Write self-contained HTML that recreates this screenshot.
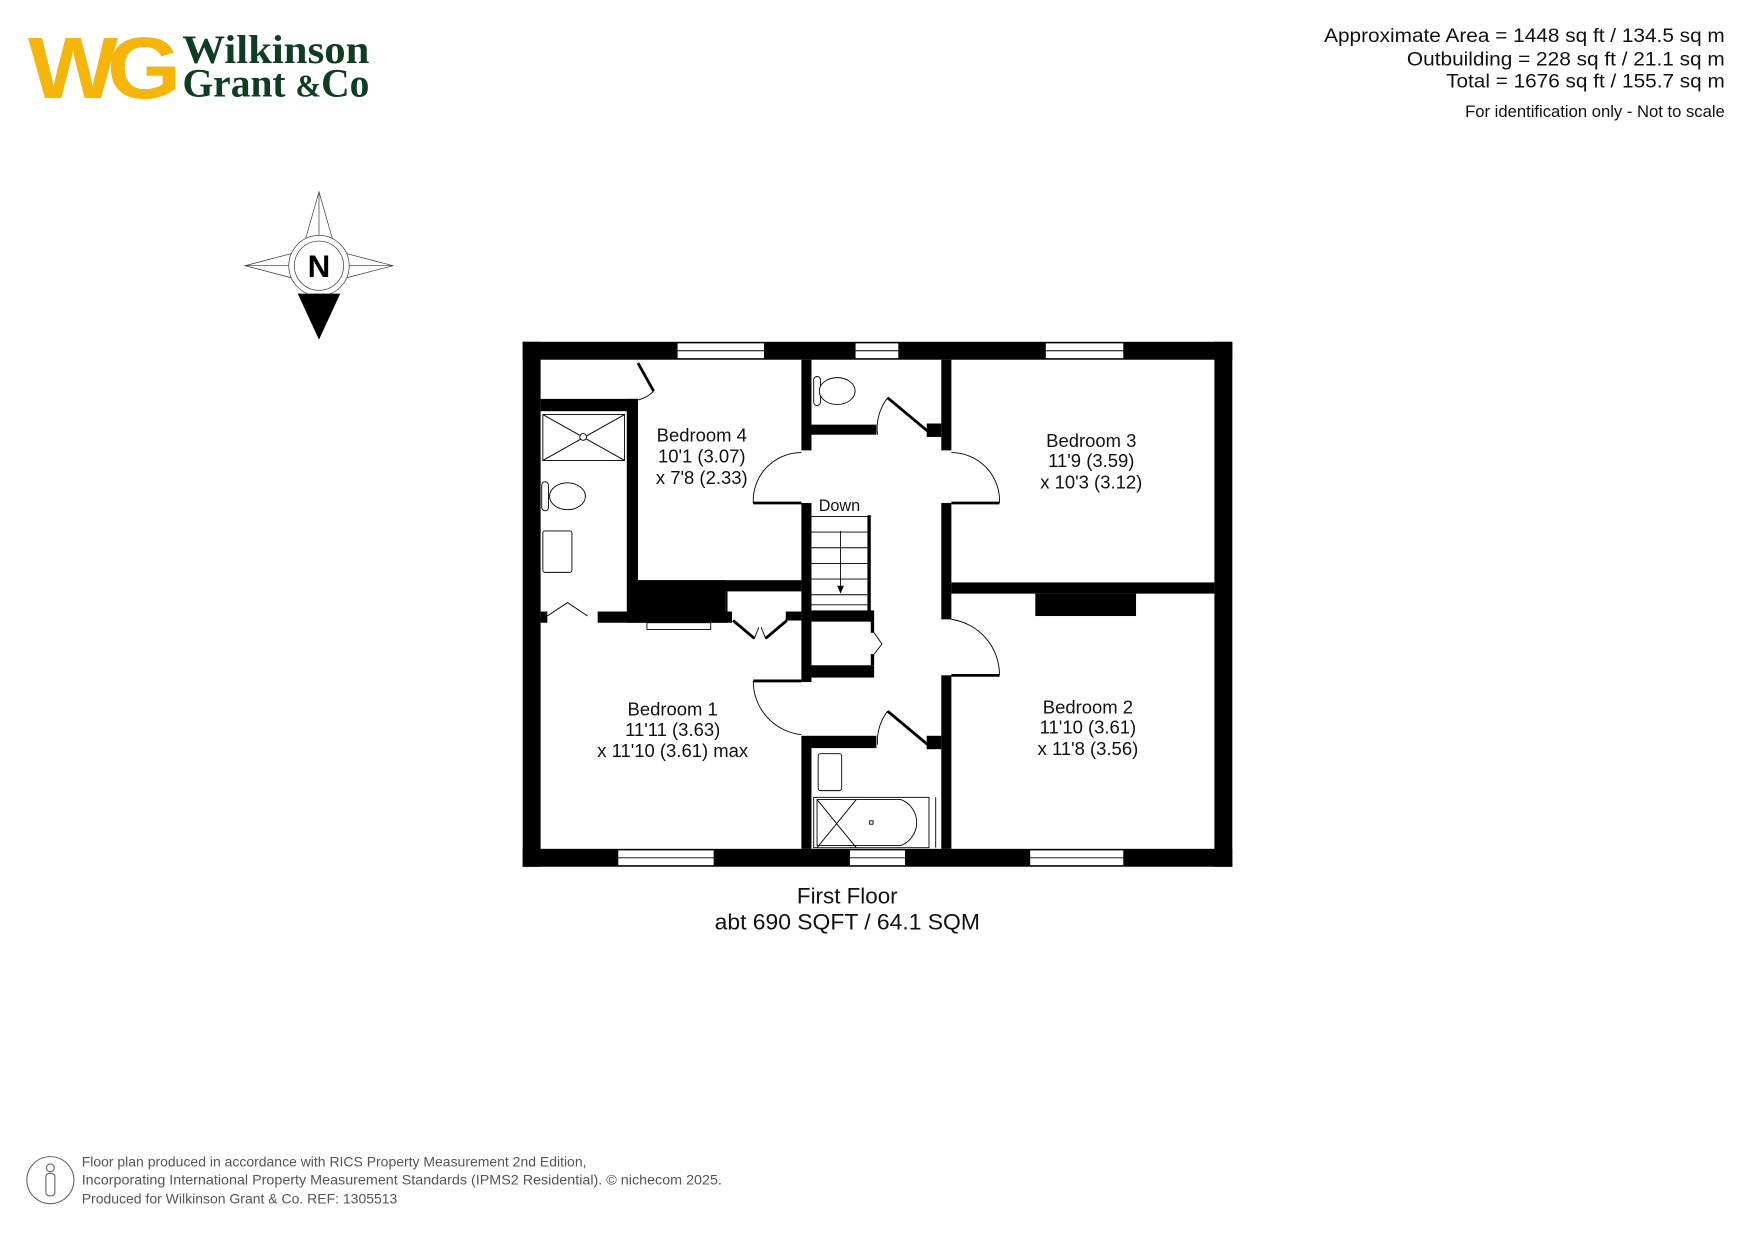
<!DOCTYPE html>
<html><head><meta charset="utf-8"><style>
html,body{margin:0;padding:0;background:#fff;}
svg{display:block;}
</style></head><body>
<svg width="1755" height="1241" viewBox="0 0 1568 1108" xmlns="http://www.w3.org/2000/svg" font-family="Liberation Sans, Arial, sans-serif">
<rect width="1568" height="1108" fill="#fff"/>
<text x="25" y="87" font-family="Liberation Sans, sans-serif" font-weight="bold" font-size="78" fill="#f5b50a" letter-spacing="-9" textLength="127" lengthAdjust="spacingAndGlyphs">WG</text>
<text x="163" y="56" font-family="Liberation Serif, serif" font-weight="bold" font-size="36" fill="#0f3d22" textLength="167" lengthAdjust="spacingAndGlyphs">Wilkinson</text>
<text x="163" y="86" font-family="Liberation Serif, serif" font-weight="bold" font-size="36" fill="#0f3d22" textLength="167" lengthAdjust="spacingAndGlyphs">Grant <tspan font-size="28">&amp;</tspan>Co</text>
<g font-size="17.5" text-anchor="end" fill="#111">
<text x="1541" y="37" textLength="358" lengthAdjust="spacingAndGlyphs">Approximate Area = 1448 sq ft / 134.5 sq m</text>
<text x="1541" y="58" textLength="284" lengthAdjust="spacingAndGlyphs">Outbuilding = 228 sq ft / 21.1 sq m</text>
<text x="1541" y="78" textLength="249" lengthAdjust="spacingAndGlyphs">Total = 1676 sq ft / 155.7 sq m</text>
<text x="1541" y="104" font-size="14.5" textLength="232" lengthAdjust="spacingAndGlyphs">For identification only - Not to scale</text>
</g>
<g stroke="#333" stroke-width="0.6" fill="none">
<polygon points="285,171 297,213 285,237 273,213"/>
<polygon points="219,237 261,226 285,237 261,248"/>
<polygon points="351,237 309,226 285,237 309,248"/>
<line x1="285" y1="171" x2="285" y2="237"/><line x1="219" y1="237" x2="351" y2="237"/>
<circle cx="285" cy="237" r="27" fill="#fff"/>
<circle cx="285" cy="237" r="22" fill="#fff"/>
</g>
<polygon points="266,262 304,262 285,303" fill="#000"/>
<text x="285" y="247" font-size="28" font-weight="bold" text-anchor="middle">N</text>
<g fill="#000">
<rect x="467" y="305" width="634" height="16"/>
<rect x="467" y="758" width="634" height="16"/>
<rect x="467" y="305" width="16" height="469"/>
<rect x="1085" y="305" width="16" height="469"/>
<rect x="716" y="321" width="9" height="81"/>
<rect x="716" y="449" width="9" height="160"/>
<rect x="716" y="657" width="9" height="101"/>
<rect x="841" y="321" width="9" height="81"/>
<rect x="841" y="449" width="9" height="104"/>
<rect x="841" y="603" width="9" height="155"/>
<rect x="850" y="520" width="235" height="10"/>
<rect x="925" y="530" width="90" height="20"/>
<rect x="725" y="379" width="58" height="9"/>
<rect x="828" y="378" width="13" height="12"/>
<rect x="725" y="657" width="58" height="11"/>
<rect x="828" y="657" width="13" height="12"/>
<rect x="725" y="545" width="56" height="10"/>
<rect x="725" y="594" width="56" height="11"/>
<rect x="775" y="460" width="3" height="95"/>
<rect x="778" y="555" width="3" height="10"/>
<rect x="778" y="584" width="3" height="10"/>
<rect x="483" y="356" width="87" height="11"/>
<rect x="560" y="356" width="10" height="200"/>
<rect x="570" y="518" width="146" height="10"/>
<rect x="570" y="518" width="78" height="38"/>
<rect x="483" y="546" width="6" height="10"/>
<rect x="534" y="546" width="36" height="10"/>
<rect x="570" y="546" width="84" height="10"/>
<rect x="648" y="528" width="2" height="28"/>
<rect x="702" y="546" width="14" height="8"/>
</g>
<g fill="#fff" stroke="#000" stroke-width="0.8">
<rect x="605" y="306" width="78" height="14"/><line x1="605" y1="313" x2="683" y2="313"/>
<rect x="764" y="306" width="39" height="14"/><line x1="764" y1="313" x2="803" y2="313"/>
<rect x="934" y="306" width="70" height="14"/><line x1="934" y1="313" x2="1004" y2="313"/>
<rect x="552" y="759" width="86" height="14"/><line x1="552" y1="766" x2="638" y2="766"/>
<rect x="759" y="759" width="50" height="14"/><line x1="759" y1="766" x2="809" y2="766"/>
<rect x="920" y="759" width="84" height="14"/><line x1="920" y1="766" x2="1004" y2="766"/>
<rect x="578" y="556" width="57" height="6"/>
</g>
<g fill="none" stroke="#000" stroke-width="0.8">
<path d="M673,449 A43,43 0 0 1 716,404"/>
<path d="M893,449 A43,43 0 0 0 850,404"/>
<path d="M673,608 A48,48 0 0 0 716,656"/>
<path d="M893,603 A50,50 0 0 0 850,553"/>
<path d="M793,355 A45,45 0 0 0 784,388"/>
<path d="M793,635 A45,45 0 0 0 784,665"/>
<path d="M584,349 A28,28 0 0 1 570,357"/>
<path d="M489,550 L507,538 L525,550"/>
<path d="M781,565 L788,575 L781,584"/>
<path d="M703,554 L684,570 L680,560 M655,554 L674,570 L678,560"/>
</g>
<g stroke="#000" stroke-width="2.5">
<line x1="673" y1="449" x2="716" y2="449"/>
<line x1="893" y1="449" x2="850" y2="449"/>
<line x1="673" y1="608" x2="716" y2="608"/>
<line x1="893" y1="603" x2="850" y2="603"/>
<line x1="829" y1="385" x2="793" y2="355"/>
<line x1="829" y1="665" x2="793" y2="635"/>
<line x1="570" y1="324" x2="584" y2="349"/>
<line x1="655" y1="554" x2="674" y2="570"/>
<line x1="703" y1="554" x2="684" y2="570"/>
</g>
<g fill="none" stroke="#000" stroke-width="0.8">
<line x1="725" y1="461" x2="778" y2="461"/>
<line x1="725" y1="475" x2="775" y2="475"/>
<line x1="725" y1="489" x2="775" y2="489"/>
<line x1="725" y1="503" x2="775" y2="503"/>
<line x1="725" y1="517" x2="775" y2="517"/>
<line x1="725" y1="531" x2="775" y2="531"/>
<line x1="725" y1="540" x2="775" y2="540"/>
<line x1="751" y1="474" x2="751" y2="528"/>
</g>
<polygon points="748,523 754,523 751,530" fill="#000"/>
<g fill="#fff" stroke="#000" stroke-width="0.8">
<rect x="485" y="370" width="73" height="41"/>
<line x1="485" y1="370" x2="558" y2="411"/><line x1="558" y1="370" x2="485" y2="411"/>
<circle cx="521" cy="390" r="3"/>
<rect x="484" y="430" width="6" height="26" rx="3"/>
<ellipse cx="507" cy="443" rx="16" ry="12"/>
<rect x="485" y="474" width="26" height="37" rx="2"/>
<rect x="727" y="336" width="6" height="26" rx="3"/>
<ellipse cx="748" cy="349" rx="16" ry="12"/>
<rect x="731" y="673" width="21" height="33" rx="2"/>
<rect x="727" y="712" width="103" height="45"/>
<path d="M730,714 H805 A22,22 0 0 1 805,755 H730 Z"/>
<line x1="730" y1="714" x2="765" y2="757"/><line x1="765" y1="714" x2="730" y2="757"/>
<line x1="836" y1="712" x2="836" y2="757"/>
<rect x="777" y="733" width="3" height="3"/>
</g>
<g font-size="16.5" text-anchor="middle" fill="#111">
<text x="627" y="394">Bedroom 4</text><text x="627" y="413">10'1 (3.07)</text><text x="627" y="432">x 7'8 (2.33)</text>
<text x="975" y="399">Bedroom 3</text><text x="975" y="417">11'9 (3.59)</text><text x="975" y="436">x 10'3 (3.12)</text>
<text x="601" y="639">Bedroom 1</text><text x="601" y="657">11'11 (3.63)</text><text x="601" y="676">x 11'10 (3.61) max</text>
<text x="972" y="637">Bedroom 2</text><text x="972" y="655">11'10 (3.61)</text><text x="972" y="674">x 11'8 (3.56)</text>
<text x="750" y="456" font-size="14.5">Down</text>
<text x="757" y="807" font-size="20">First Floor</text>
<text x="757" y="830" font-size="20" textLength="237" lengthAdjust="spacingAndGlyphs">abt 690 SQFT / 64.1 SQM</text>
</g>
<circle cx="45" cy="1054" r="21" fill="none" stroke="#666" stroke-width="1"/>
<circle cx="45" cy="1043" r="3.5" fill="none" stroke="#666"/>
<rect x="41" y="1048" width="8" height="20" rx="3" fill="none" stroke="#666"/>
<g font-size="12.5" fill="#555">
<text x="73" y="1042" textLength="451" lengthAdjust="spacingAndGlyphs">Floor plan produced in accordance with RICS Property Measurement 2nd Edition,</text>
<text x="73" y="1058" textLength="572" lengthAdjust="spacingAndGlyphs">Incorporating International Property Measurement Standards (IPMS2 Residential).  © nichecom   2025.</text>
<text x="73" y="1075" textLength="282" lengthAdjust="spacingAndGlyphs">Produced for Wilkinson Grant &amp; Co.   REF:  1305513</text>
</g>
</svg>
</body></html>
